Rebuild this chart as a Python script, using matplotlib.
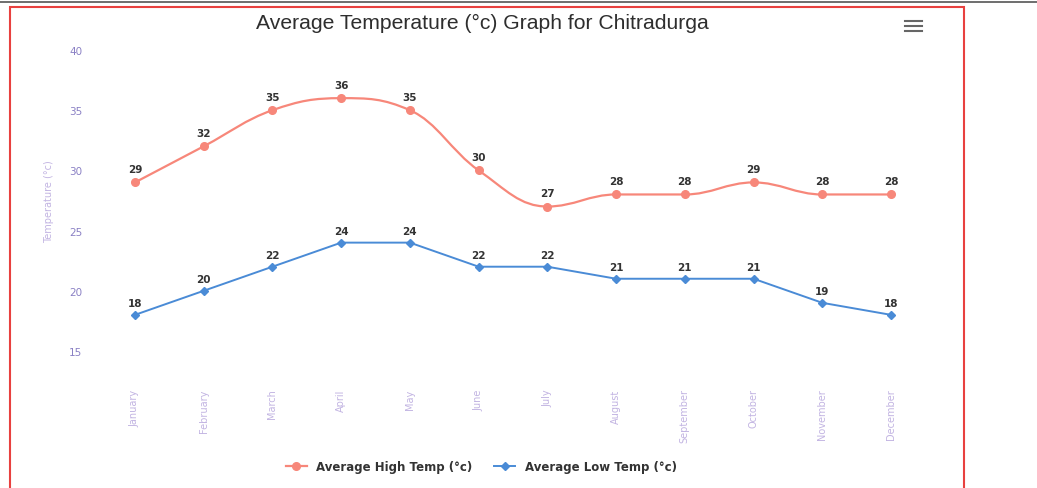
"""Average temperature chart for Chitradurga, Highcharts-like look."""

import matplotlib.pyplot as plt
from matplotlib.lines import Line2D
from matplotlib.patches import PathPatch, Rectangle
from matplotlib.path import Path

MONTHS = ["January", "February", "March", "April", "May", "June", "July",
          "August", "September", "October", "November", "December"]
HIGH = [29, 32, 35, 36, 35, 30, 27, 28, 28, 29, 28, 28]
LOW = [18, 20, 22, 24, 24, 22, 22, 21, 21, 21, 19, 18]
Y_TICKS = [15, 20, 25, 30, 35, 40]

HIGH_C = "#f7877a"
LOW_C = "#4a8bd6"
AXIS_C = "#8a80c4"
CAT_C = "#c2b4e2"
DARK = "#333333"


def spline_path(xs, ys, smoothing=1.5):
    # Highcharts-style spline: cubic beziers with control points on a line
    # through each point, clamped so the curve makes no false extremes.
    n = len(xs)
    verts = [(xs[0], ys[0])]
    codes = [Path.MOVETO]
    right_prev = (xs[0], ys[0])
    denom = smoothing + 1
    for i in range(1, n):
        x, y = xs[i], ys[i]
        if i < n - 1:
            lx, ly = xs[i - 1], ys[i - 1]
            nx, ny = xs[i + 1], ys[i + 1]
            lcx = (smoothing * x + lx) / denom
            lcy = (smoothing * y + ly) / denom
            rcx = (smoothing * x + nx) / denom
            rcy = (smoothing * y + ny) / denom
            corr = 0
            if rcx != lcx:
                corr = (rcy - lcy) * (rcx - x) / (rcx - lcx) + y - rcy
            lcy += corr
            rcy += corr
            if lcy > ly and lcy > y:
                lcy = max(ly, y)
                rcy = 2 * y - lcy
            elif lcy < ly and lcy < y:
                lcy = min(ly, y)
                rcy = 2 * y - lcy
            if rcy > ny and rcy > y:
                rcy = max(ny, y)
                lcy = 2 * y - rcy
            elif rcy < ny and rcy < y:
                rcy = min(ny, y)
                lcy = 2 * y - rcy
        else:
            lcx, lcy = x, y
            rcx, rcy = x, y
        verts += [right_prev, (lcx, lcy), (x, y)]
        codes += [Path.CURVE4] * 3
        right_prev = (rcx, rcy)
    return Path(verts, codes)


fig = plt.figure(figsize=(10.37, 4.89), dpi=100)
fig.patch.set_facecolor("white")
ax = fig.add_axes([0.097, 0.2802, 0.7954, 0.6155])

xs = list(range(len(MONTHS)))

ax.add_patch(PathPatch(spline_path(xs, HIGH), fill=False, edgecolor=HIGH_C,
                       linewidth=1.6, zorder=3))
ax.plot(xs, HIGH, linestyle="none", marker="o", markersize=5.5,
        color=HIGH_C, zorder=4)
ax.plot(xs, LOW, color=LOW_C, linewidth=1.4, marker="D", markersize=3.8,
        zorder=4)

for x, v in zip(xs, HIGH):
    ax.annotate(str(v), (x, v), xytext=(0, 6), textcoords="offset points",
                ha="center", va="bottom", fontsize=7.5, fontweight="bold",
                color=DARK)
for x, v in zip(xs, LOW):
    ax.annotate(str(v), (x, v), xytext=(0, 5), textcoords="offset points",
                ha="center", va="bottom", fontsize=7.5, fontweight="bold",
                color=DARK)

ax.set_xlim(-0.5, len(MONTHS) - 0.5)
ax.set_ylim(15, 40)
ax.set_yticks(Y_TICKS)
ax.set_xticks(xs)
ax.set_xticklabels(MONTHS, rotation=90, va="top", ha="center")
ax.tick_params(axis="x", length=0, pad=27, labelsize=7, labelcolor=CAT_C)
ax.tick_params(axis="y", length=0, pad=13, labelsize=7.5, labelcolor=AXIS_C)
for spine in ax.spines.values():
    spine.set_visible(False)
ax.set_ylabel("Temperature (°c)", color=CAT_C, fontsize=7, labelpad=11)

fig.text(0.465, 0.953, "Average Temperature (°c) Graph for Chitradurga",
         ha="center", va="center", fontsize=15.2, color="#2e2e2e",
         family="Liberation Sans")

# menu icon
for yy in (22, 27, 32):
    fig.add_artist(Line2D([905 / 1037, 922 / 1037], [1 - yy / 489] * 2,
                          color="#666666", linewidth=1.5))

handles = [
    Line2D([], [], color=HIGH_C, marker="o", markersize=5.5, linewidth=1.6),
    Line2D([], [], color=LOW_C, marker="D", markersize=3.8, linewidth=1.4),
]
fig.legend(handles, ["Average High Temp (°c)", "Average Low Temp (°c)"],
           loc="center", bbox_to_anchor=(0.464, 0.043), ncol=2,
           frameon=False, handlelength=1.8, columnspacing=1.8,
           prop={"weight": "bold", "size": 8.5}, labelcolor=DARK)

# frame of the screenshot
fig.add_artist(Rectangle((10 / 1037, -0.02), 954 / 1037, 1.02 - 8 / 489,
                         transform=fig.transFigure, fill=False,
                         edgecolor="#e8413f", linewidth=1.5))
fig.add_artist(Line2D([0, 1], [1 - 3 / 489] * 2, color="#555555",
                      linewidth=1.2))

fig.savefig("out.png", dpi=100, facecolor=fig.get_facecolor())
